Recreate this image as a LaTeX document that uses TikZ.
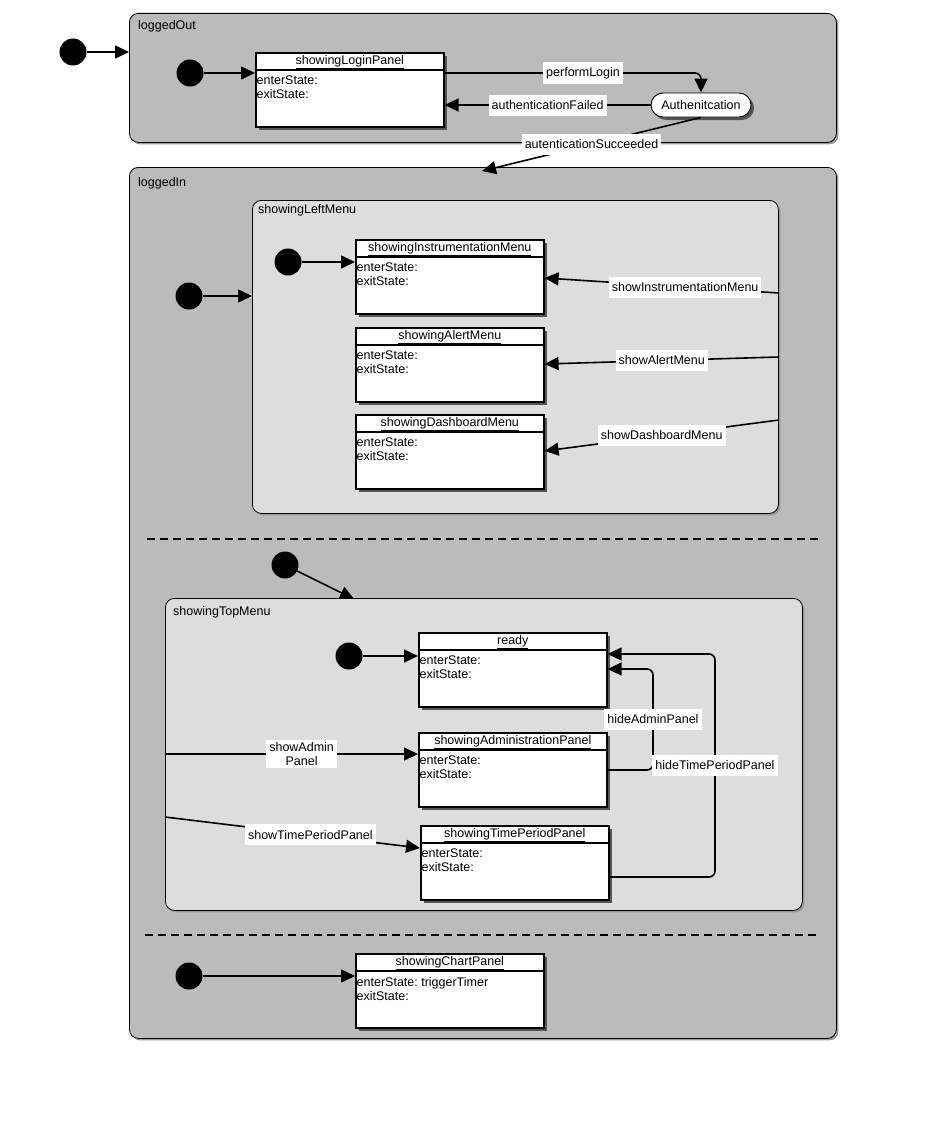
\documentclass[tikz,border=0pt]{standalone}
\usepackage{fontspec}
\setmainfont{Liberation Sans}
\usetikzlibrary{arrows.meta,shadows,shapes.misc,positioning}

\definecolor{outerGray}{HTML}{BBBBBB}
\definecolor{innerGray}{HTML}{DDDDDD}
\definecolor{stateShadow}{HTML}{555555}
\definecolor{boxShadow}{HTML}{9A9A9A}

\tikzset{
	every node/.style={font=\fontsize{12.5}{14}\selectfont\frenchspacing},
	composite/.style={draw, line width=0.8pt, rounded corners=9pt, fill=outerGray, anchor=north west, inner sep=0pt,
		drop shadow={shadow xshift=2pt, shadow yshift=-2pt, fill=boxShadow, opacity=1}},
	subregion/.style={composite, fill=innerGray},
	boxlabel/.style={anchor=base west, inner sep=0pt},
	statebox/.style={draw, line width=1.6pt, fill=white, anchor=north west, minimum width=188pt, minimum height=74pt, inner sep=0pt,
		drop shadow={shadow xshift=3pt, shadow yshift=-3pt, fill=stateShadow, opacity=1}},
	statetitle/.style={anchor=base, inner sep=0pt},
	statebody/.style={anchor=north west, align=left, inner xsep=1.5pt, inner ysep=6pt},
	authbox/.style={draw, rounded rectangle, fill=white, line width=0.9pt, minimum width=100pt, minimum height=24pt, inner sep=0pt,
		drop shadow={shadow xshift=3pt, shadow yshift=-3pt, fill=stateShadow, opacity=1}},
	initial/.style={circle, fill=black, minimum size=27pt, inner sep=0pt},
	trans/.style={line width=1.6pt, -{Triangle[length=14pt,width=13pt]}},
	lbl/.style={fill=white, sharp corners, inner xsep=3pt, inner ysep=2pt, minimum height=21pt},
	region/.style={line width=1.6pt, dash pattern=on 8pt off 5pt},
}

% state: name, top left corner, title, enterState action
\newcommand{\umlstate}[4]{%
	\node[statebox] (#1) at (#2) {};
	\draw[line width=1.6pt] ([yshift=-18pt]#1.north west) -- ([yshift=-18pt]#1.north east);
	\node[statetitle] (#1-title) at ([yshift=-12.5pt]#1.north) {\underline{#3}};
	\node[statebody] (#1-body) at ([yshift=-18pt]#1.north west) {enterState:#4\\exitState:};
}

\begin{document}
\begin{tikzpicture}[x=1pt,y=-1pt]
	\useasboundingbox (0,0) rectangle (937,1140);

	% loggedOut
	\node[composite, minimum width=707pt, minimum height=129pt] (loggedOut) at (129,13) {};
	\node[boxlabel] (loggedOutLbl) at ([xshift=9pt,yshift=-16.5pt]loggedOut.north west) {loggedOut};
	\node[initial] (init0) at (73,52) {};
	\node[initial] (initOut) at (190,73) {};
	\umlstate{login}{255,52}{showingLoginPanel}{}
	\node[authbox] (auth) at (701,105) {Authenitcation};

	\draw[trans] (init0) -- (init0 -| loggedOut.west);
	\draw[trans] (initOut) -- (initOut -| login.west);
	\draw[trans, rounded corners=6pt] (login.east |- initOut) -- node[lbl, pos=0.54] (perfLbl) {performLogin} (auth.north |- initOut) -- (auth.north);
	\draw[trans] (auth.west) -- node[lbl] (failLbl) {authenticationFailed} (auth.west -| login.east);

	% loggedIn
	\node[composite, minimum width=707pt, minimum height=871pt] (loggedIn) at (129,167) {};
	\node[boxlabel] (loggedInLbl) at ([xshift=9pt,yshift=-19pt]loggedIn.north west) {loggedIn};
	\coordinate (inEntry) at (482,171);
	\draw[trans] (auth.south) -- node[lbl] (succLbl) {autenticationSucceeded} (inEntry);

	% showingLeftMenu
	\node[subregion, minimum width=526pt, minimum height=313pt] (leftMenu) at (252,200) {};
	\node[boxlabel] (leftMenuLbl) at ([xshift=6pt,yshift=-13pt]leftMenu.north west) {showingLeftMenu};
	\node[initial] (initIn) at (189,296) {};
	\node[initial] (initLeft) at (288,262) {};
	\umlstate{instr}{355,239}{showingInstrumentationMenu}{}
	\umlstate{alert}{355,327}{showingAlertMenu}{}
	\umlstate{dashboard}{355,414}{showingDashboardMenu}{}

	\draw[trans] (initIn) -- (initIn -| leftMenu.west);
	\draw[trans] (initLeft) -- (initLeft -| instr.west);
	\draw[trans] (leftMenu.east |- 0,293) -- node[lbl, pos=0.4] (instrLbl) {showInstrumentationMenu} (instr.east |- 0,278);
	\draw[trans] (leftMenu.east |- 0,357) -- node[lbl] (alertLbl) {showAlertMenu} (alert.east |- 0,364);
	\draw[trans] (leftMenu.east |- 0,420) -- node[lbl] (dashLbl) {showDashboardMenu} (dashboard.east |- 0,451);

	\draw[region] (147,539) -- (822,539);

	% showingTopMenu
	\node[initial] (initTop) at (285,565) {};
	\node[subregion, minimum width=637pt, minimum height=312pt] (topMenu) at (165,598) {};
	\node[boxlabel] (topMenuLbl) at ([xshift=8pt,yshift=-17pt]topMenu.north west) {showingTopMenu};
	\coordinate (topEntry) at (354,599);
	\draw[trans] (initTop) -- (topEntry);

	\node[initial] (initReady) at (349,656) {};
	\umlstate{ready}{418,632}{ready}{}
	\umlstate{admin}{418,732}{showingAdministrationPanel}{}
	\umlstate{period}{420,825}{showingTimePeriodPanel}{}

	\draw[trans] (initReady) -- (initReady -| ready.west);
	\draw[trans] (topMenu.west |- 0,754) -- node[lbl, align=center, pos=0.54] (showAdminLbl) {showAdmin\\Panel} (admin.west |- 0,754);
	\draw[trans] (topMenu.west |- 0,817) -- node[lbl, pos=0.57] (showPeriodLbl) {showTimePeriodPanel} (period.west |- 0,848);
	\draw[trans, rounded corners=6pt] (admin.east |- 0,770) -- (653,770) -- node[lbl] (hideAdminLbl) {hideAdminPanel} (653,669) -- (ready.east |- 0,669);
	\draw[trans, rounded corners=6pt] (period.east |- 0,877) -- (715,877) -- node[lbl] (hidePeriodLbl) {hideTimePeriodPanel} (715,654) -- (ready.east |- 0,654);

	\draw[region] (145,935) -- (818,935);

	% showingChartPanel
	\node[initial] (initChart) at (189,976) {};
	\umlstate{chart}{355,953}{showingChartPanel}{ triggerTimer}
	\draw[trans] (initChart) -- (initChart -| chart.west);
\end{tikzpicture}
\end{document}
